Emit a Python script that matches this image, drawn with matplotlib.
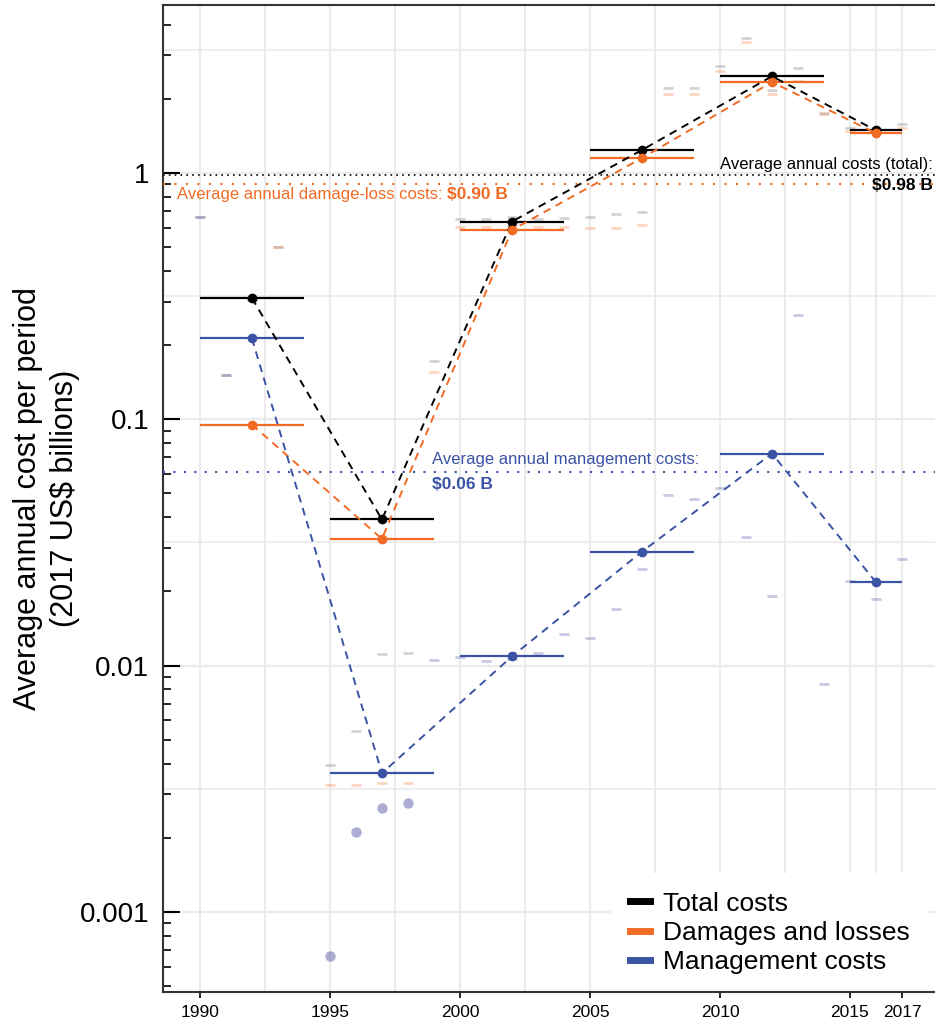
import numpy as np
import matplotlib
matplotlib.use('Agg')
import matplotlib.pyplot as plt
from matplotlib.lines import Line2D

plt.rcParams['font.family'] = ['Liberation Sans', 'DejaVu Sans']

nan = np.nan

#%% data
years = list(range(1990, 2018))
total_annual = [0.663, 0.152, 0.306, 0.50, nan, 0.00395, 0.00542, 0.0111, 0.0113, 0.173,
                0.651, 0.651, 0.663, 0.651, 0.657, 0.663, 0.682, 0.695, 2.21, 2.21,
                2.72, 3.53, 2.17, 2.67, 1.75, 1.52, 1.52, 1.58]
damage_annual = [nan, nan, nan, 0.50, nan, 0.00327, 0.00327, 0.00335, 0.00335, 0.156,
                 0.604, 0.604, 0.61, 0.604, 0.604, 0.598, 0.598, 0.616, 2.09, 2.09,
                 2.59, 3.40, 2.09, 2.36, 1.73, 1.48, 1.49, 1.52]
mgmt_annual = [0.663, 0.152, 0.306, nan, nan, 0.000664, 0.00211, 0.00264, 0.00277, 0.0105,
               0.0108, 0.0104, 0.0106, 0.0113, 0.0135, 0.0130, 0.0169, 0.0246, 0.0495, 0.0473,
               0.0524, 0.0334, 0.0191, 0.264, 0.0084, 0.022, 0.0187, 0.0272]
mgmt_dot_years = [1995, 1996, 1997, 1998]

period_start = [1990, 1995, 2000, 2005, 2010, 2015]
period_end = [1994, 1999, 2004, 2009, 2014, 2017]
period_mid = [1992, 1997, 2002, 2007, 2012, 2016]
total_period = [0.311, 0.0392, 0.635, 1.24, 2.47, 1.49]
damage_period = [0.0952, 0.0327, 0.587, 1.15, 2.34, 1.45]
mgmt_period = [0.213, 0.00366, 0.0109, 0.029, 0.0726, 0.0218]

avg_total = 0.98
avg_damage = 0.90
avg_mgmt = 0.061

series_labels = ['Total costs', 'Damages and losses', 'Management costs']

#%% plot
c_tot = 'black'
c_dam = '#f26b24'
c_man = '#3b53a4'

fig = plt.figure(figsize=(9.35, 10.24), dpi=100)
ax = fig.add_axes([163/935, 32/1024, 772/935, 987/1024])

ax.set_yscale('log')
ax.set_xlim(1988.58, 2018.27)
ax.set_ylim(0.000473, 4.81)

# grid
ax.set_xticks([1990, 1995, 2000, 2005, 2010, 2015, 2017])
ax.set_xticks([1992.5, 1997.5, 2002.5, 2007.5, 2012.5, 2016], minor=True)
ax.grid(True, axis='x', which='both', color='#ebebeb', lw=1.5, zorder=0)
for k in range(-4, 1):
    ax.axhline(10.0**k, color='#ebebeb', lw=1.6, zorder=0)
    ax.axhline(10.0**(k + 0.5), color='#ebebeb', lw=1.2, zorder=0)
ax.set_axisbelow(True)

# annual values
yrs = np.array(years)
mg = np.array(mgmt_annual)
dots = np.isin(yrs, mgmt_dot_years)
ax.plot(yrs, total_annual, ls='none', marker='_', ms=7, mew=2, color='#777777', alpha=0.32, zorder=2)
ax.plot(yrs, damage_annual, ls='none', marker='_', ms=7, mew=2, color=c_dam, alpha=0.28, zorder=2)
ax.plot(yrs[~dots], mg[~dots], ls='none', marker='_', ms=7, mew=2, color='#4a4aa0', alpha=0.3, zorder=2)
ax.plot(yrs[dots], mg[dots], ls='none', marker='o', ms=7.5, color='#4a4aa0', alpha=0.45, mew=0, zorder=2)

# average lines
ax.axhline(avg_total, color=c_tot, ls=(0, (1, 2.5)), lw=1.2, zorder=3)
ax.axhline(avg_damage, color=c_dam, ls=(0, (1, 4.5)), lw=1.5, zorder=3)
ax.axhline(avg_mgmt, color=c_man, ls=(0, (1, 4)), lw=1.5, zorder=3)

# period values
for vals, col in [(total_period, c_tot), (damage_period, c_dam), (mgmt_period, c_man)]:
    ax.hlines(vals, period_start, period_end, color=col, lw=1.6, zorder=4)
    ax.plot(period_mid, vals, color=col, ls=(0, (4, 3)), lw=1.4, marker='o', ms=6, zorder=5)

# annotations
t = ax.text(1989.1, 0.815, 'Average annual damage-loss costs: ', color=c_dam, fontsize=12,
            va='center', ha='left', zorder=6)
ax.annotate('$0.90 B', xy=(1, 0.5), xycoords=t, va='center', ha='left', color=c_dam,
            fontsize=12.5, fontweight='bold')
ax.text(2018.2, 1.08, 'Average annual costs (total):', color=c_tot, fontsize=12,
        va='center', ha='right')
ax.text(2018.2, 0.886, '$0.98 B', color=c_tot, fontsize=12.5, fontweight='bold',
        va='center', ha='right')
ax.text(1998.94, 0.0687, 'Average annual management costs:', color=c_man, fontsize=12,
        va='center', ha='left')
ax.text(1998.94, 0.0544, '$0.06 B', color=c_man, fontsize=12.5, fontweight='bold',
        va='center', ha='left')

# axes styling
for s in ['left', 'bottom', 'top']:
    ax.spines[s].set_color('#333333')
    ax.spines[s].set_linewidth(1.5)
ax.spines['right'].set_visible(False)

ax.set_yticks([0.001, 0.01, 0.1, 1])
ax.set_yticklabels(['0.001', '0.01', '0.1', '1'])
ax.tick_params(axis='y', which='major', direction='in', length=12, width=1.5,
               labelsize=20, pad=10, colors='black')
ax.tick_params(axis='y', which='minor', direction='in', length=6, width=1.2, colors='black')
ax.tick_params(axis='x', which='major', direction='out', length=4.5, width=1.2,
               labelsize=12.5, pad=5)
ax.tick_params(axis='x', which='minor', length=0)
ax.yaxis.set_minor_formatter(matplotlib.ticker.NullFormatter())
for tk in ax.yaxis.get_major_ticks():
    if tk.get_loc() in (0.1, 0.01):
        tk.tick1line.set_color(c_man)

ax.set_ylabel('Average annual cost per period\n(2017 US$ billions)', fontsize=22)
ax.yaxis.label.set_linespacing(1.3)
ax.yaxis.set_label_coords(-0.108, 0.5)

handles = [Line2D([], [], color=c, lw=5) for c in (c_tot, c_dam, c_man)]
leg = ax.legend(handles, series_labels, loc='lower right', fontsize=19, frameon=True,
                facecolor='white', edgecolor='none', framealpha=1, handlelength=0.75,
                handletextpad=0.5, labelspacing=0.2, borderpad=0.7,
                bbox_to_anchor=(1.008, -0.014))
leg.set_zorder(2.45)

fig.savefig('out.png', dpi=100)
